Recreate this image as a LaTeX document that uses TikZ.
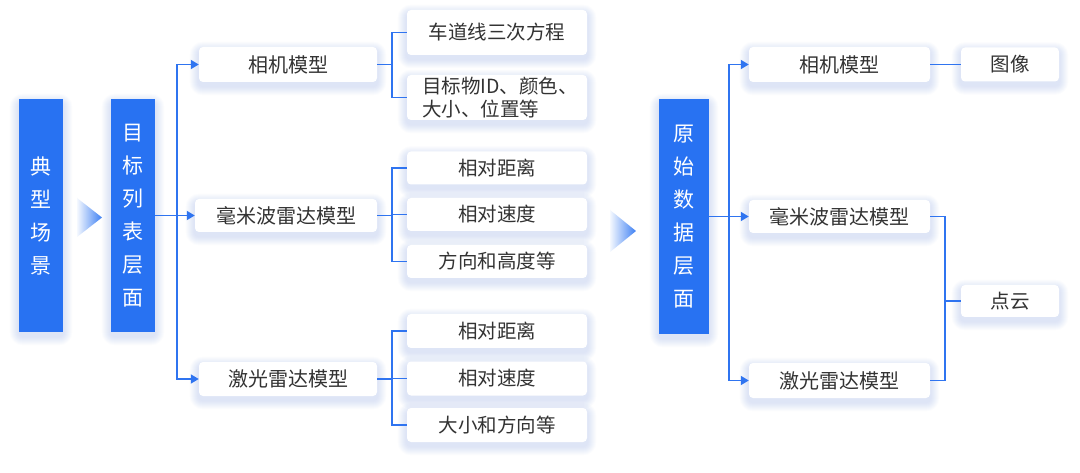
\documentclass[tikz,border=0pt]{standalone}
\usepackage{fontspec}
\newfontfamily\cjk{Noto Sans CJK SC}
\usetikzlibrary{arrows.meta}
\pgfdeclarelayer{bgw}
\pgfdeclarelayer{shl}
\pgfsetlayers{bgw,shl,main}
\definecolor{myblue}{HTML}{2872F2}
\definecolor{lineblue}{HTML}{2F74F0}
\definecolor{txt}{HTML}{333333}
\definecolor{shadowc}{HTML}{9DB5F5}
\tikzset{
  bluebox/.style={fill=myblue,inner sep=0pt,text=white,align=center,
    font=\cjk\fontsize{21}{33}\selectfont},
  wbox/.style={fill=white,rounded corners=4pt,inner sep=0pt,text=txt,
    font=\cjk\fontsize{20}{24}\selectfont},
  leaf/.style={wbox,minimum width=180pt,font=\cjk\fontsize{19.5}{23}\selectfont},
  conn/.style={draw=lineblue,line width=1.8pt},
  arr/.style={conn,-{Triangle[length=8pt,width=9pt]}},
  shlayer/.style={fill=shadowc,opacity=0.04},
}
\newcommand\boxshadow[1]{%
  \foreach \i in {1,...,9}{%
    \fill[shlayer,rounded corners=4pt+\i pt]
      ([xshift=-\i pt,yshift=-4pt-\i pt]#1.south west) rectangle
      ([xshift=\i pt,yshift=-4pt+\i pt]#1.north east);}}
\begin{document}
\begin{tikzpicture}[x=1pt,y=-1pt]
\begin{pgfonlayer}{bgw}
\fill[white] (0,0) rectangle (1080,473);
\end{pgfonlayer}
\useasboundingbox (0,0) rectangle (1080,473);
% blue columns
\node[bluebox,minimum width=44pt,minimum height=233pt] (s1) at (41,215.5) {典\\型\\场\\景};
\node[bluebox,minimum width=44pt,minimum height=233pt] (s2) at (133,215.5) {目\\标\\列\\表\\层\\面};
\node[bluebox,minimum width=50pt,minimum height=235pt] (s3) at (684,216.5) {原\\始\\数\\据\\层\\面};
% gradient triangles
\shade[left color=myblue!5,right color=myblue!90] (77,198) -- (102,217.5) -- (77,237) -- cycle;
\shade[left color=myblue!5,right color=myblue!90] (610,210) -- (636,231) -- (610,252) -- cycle;
% left middle boxes
\node[wbox,minimum width=178pt,minimum height=35pt] (m1) at (288,64.5) {相机模型};
\node[wbox,minimum width=182pt,minimum height=33pt] (m2) at (286,215.5) {毫米波雷达模型};
\node[wbox,minimum width=178pt,minimum height=34pt] (m3) at (288,379) {激光雷达模型};
% leaves group 1
\node[leaf,minimum height=45pt] (a1) at (497,32.5) {车道线三次方程};
\node[leaf,minimum height=45pt,text width=150pt,align=left] (a2) at (497,97.5) {目标物ID、颜色、\\大小、位置等};
% leaves group 2
\node[leaf,minimum height=33pt] (b1) at (497,168) {相对距离};
\node[leaf,minimum height=33pt] (b2) at (497,214.5) {相对速度};
\node[leaf,minimum height=33pt] (b3) at (497,261.5) {方向和高度等};
% leaves group 3
\node[leaf,minimum height=34pt] (c1) at (497,331) {相对距离};
\node[leaf,minimum height=34pt] (c2) at (497,378.5) {相对速度};
\node[leaf,minimum height=34pt] (c3) at (497,425) {大小和方向等};
% right boxes
\node[wbox,minimum width=181pt,minimum height=35pt] (r1) at (839.5,64.5) {相机模型};
\node[wbox,minimum width=181pt,minimum height=33pt] (r2) at (839.5,216.5) {毫米波雷达模型};
\node[wbox,minimum width=181pt,minimum height=35pt] (r3) at (839.5,380.5) {激光雷达模型};
\node[leaf,minimum width=98pt,minimum height=34pt] (e1) at (1010,64.5) {图像};
\node[leaf,minimum width=98pt,minimum height=32pt] (e2) at (1010,301) {点云};
% shadows
\begin{pgfonlayer}{shl}
\foreach \n in {s1,s2,s3,m1,m2,m3,a1,a2,b1,b2,b3,c1,c2,c3,r1,r2,r3,e1,e2}{\boxshadow{\n}}
\end{pgfonlayer}
% left trunk
\coordinate (tl) at (177,215.5);
\draw[arr] (s2.east) -- (m2.west);
\draw[arr] (tl) |- (m1.west);
\draw[arr] (tl) |- (m3.west);
% brackets left
\draw[conn] (m1.east) -- ++(15,0);
\draw[conn] (a1.west) -- ++(-15,0) |- (a2.west);
\draw[conn] (m2.east) -- ++(15,0);
\draw[conn] (b1.west) -- ++(-15,0) |- (b3.west);
\draw[conn] (b2.west) -- ++(-15,0);
\draw[conn] (m3.east) -- ++(15,0);
\draw[conn] (c1.west) -- ++(-15,0) |- (c3.west);
\draw[conn] (c2.west) -- ++(-15,0);
% right trunk
\coordinate (tr) at (729,216.5);
\draw[arr] (s3.east) -- (r2.west);
\draw[arr] (tr) |- (r1.west);
\draw[arr] (tr) |- (r3.west);
\draw[conn] (r1.east) -- (e1.west);
\draw[conn] (r2.east) -- ++(15,0) |- (r3.east);
\draw[conn] (e2.west) -- ++(-15,0);
\end{tikzpicture}
\end{document}
